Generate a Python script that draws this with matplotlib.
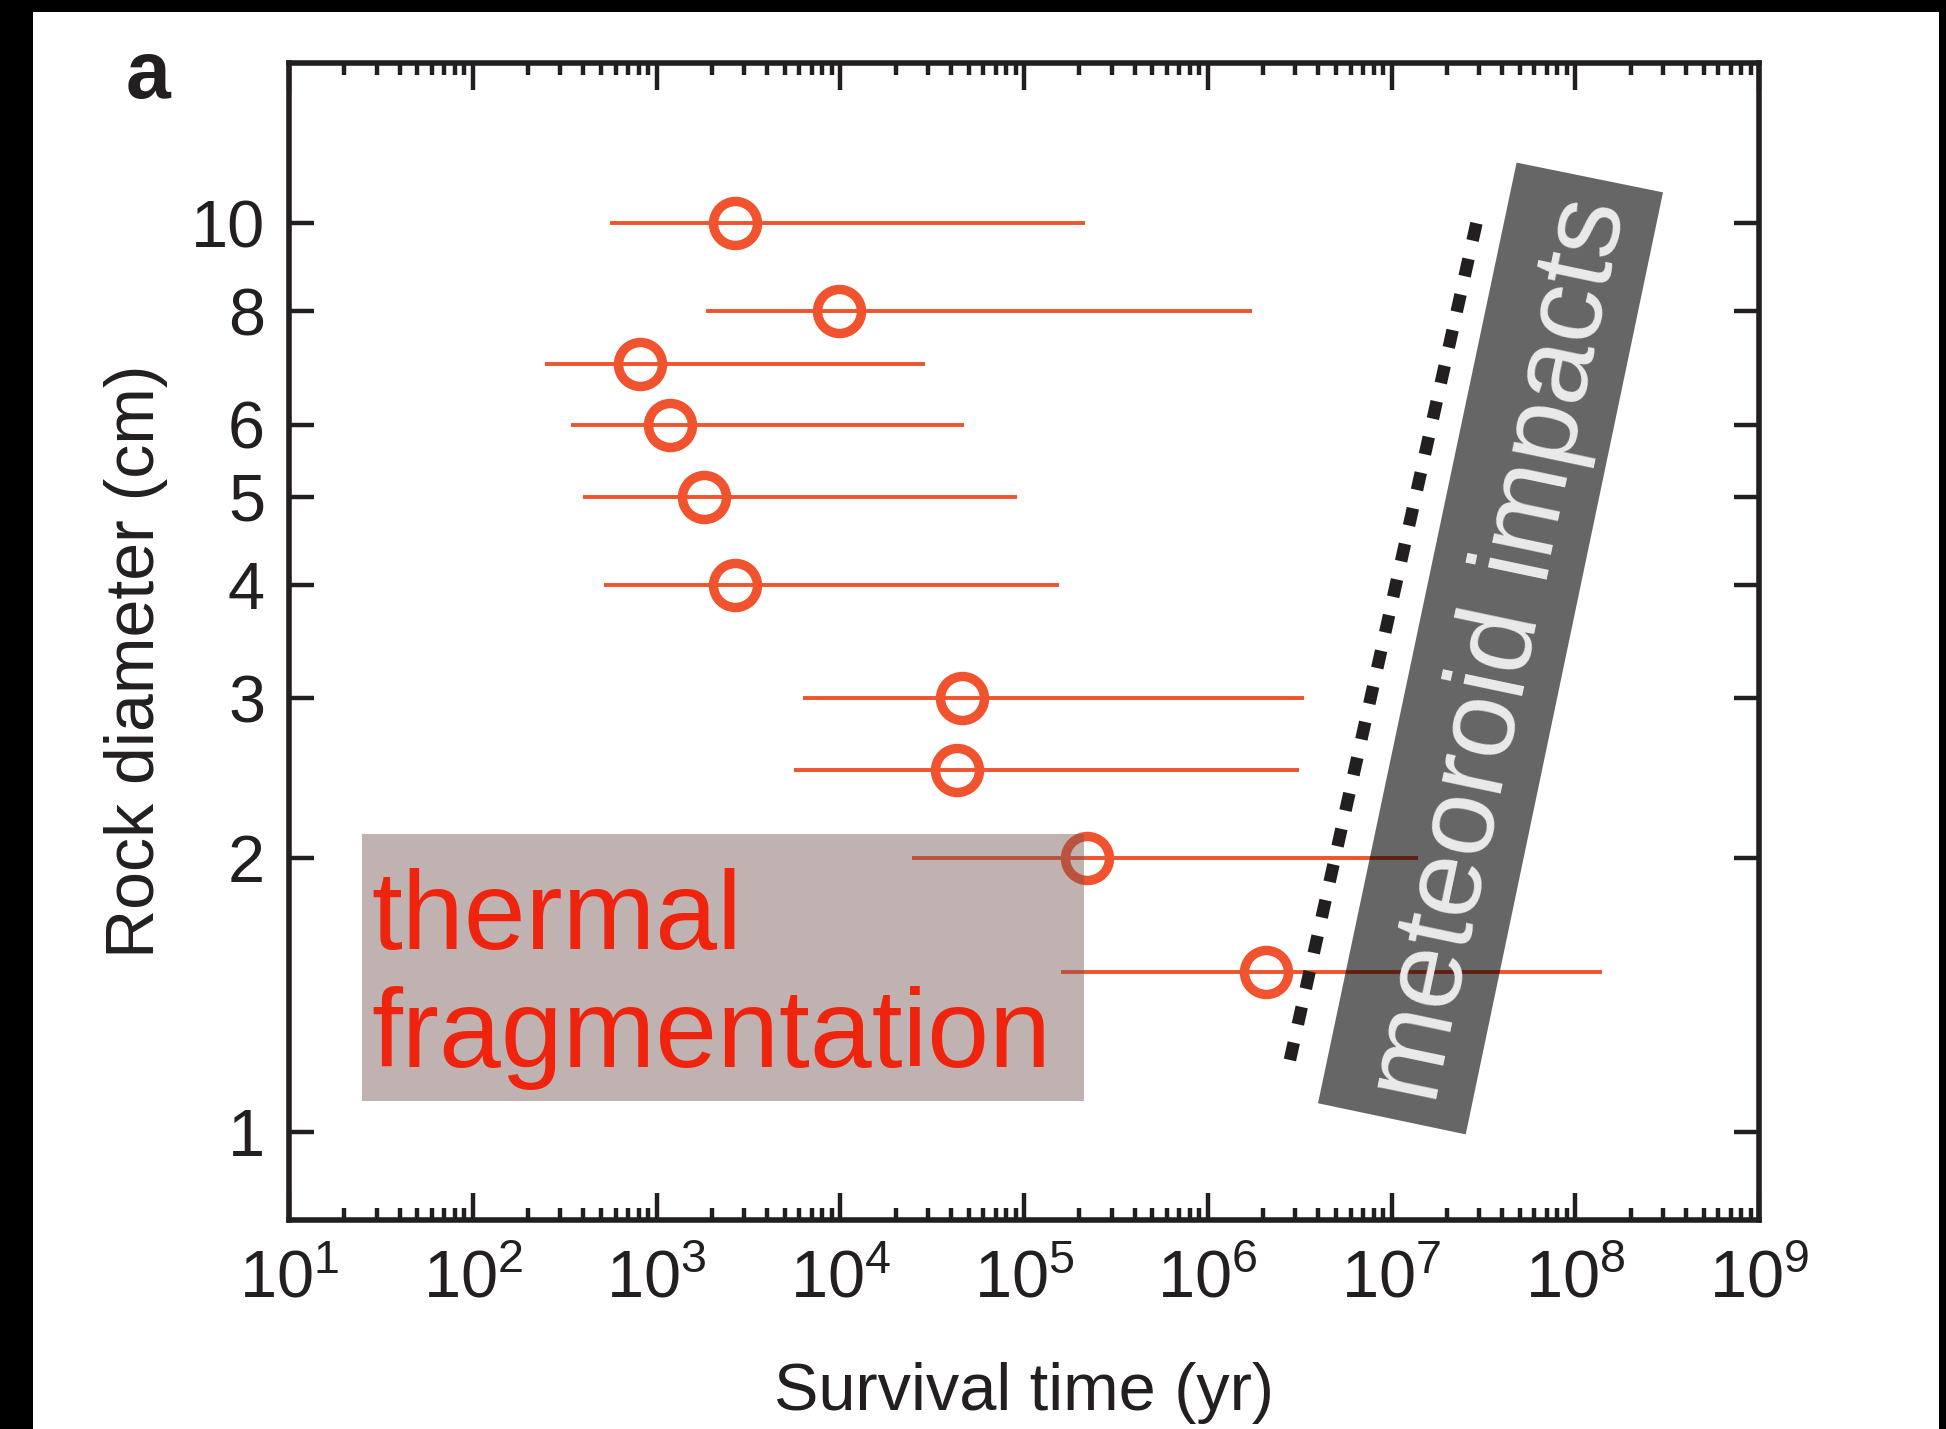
import matplotlib
matplotlib.use('Agg')
import matplotlib.pyplot as plt
from matplotlib.patches import Rectangle, Polygon
from matplotlib.ticker import LogLocator, FixedLocator, NullLocator, FuncFormatter, NullFormatter
import numpy as np

# ---------------- data ----------------
rock_diameter_cm = [10, 8, 7, 6, 5, 4, 3, 2.5, 2, 1.5]
survival_median_yr = [2.67e3, 9.9e3, 8.1e2, 1.19e3, 1.81e3, 2.66e3, 4.6e4, 4.3e4, 2.2e5, 2.08e6]
survival_low_yr = [5.6e2, 1.85e3, 2.47e2, 3.43e2, 4.0e2, 5.2e2, 6.3e3, 5.6e3, 2.45e4, 1.59e5]
survival_high_yr = [2.14e5, 1.75e6, 2.89e4, 4.7e4, 9.2e4, 1.56e5, 3.36e6, 3.15e6, 1.40e7, 1.40e8]
impact_time_yr = [2.8e6, 2.9e7]
impact_diameter_cm = [1.2, 10]
y_ticks = [1, 2, 3, 4, 5, 6, 8, 10]
x_decades = list(range(1, 10))

# ---------------- style ----------------
plt.rcParams['font.family'] = ['Liberation Sans', 'DejaVu Sans']
plt.rcParams['mathtext.fontset'] = 'custom'
plt.rcParams['mathtext.rm'] = 'Liberation Sans'
plt.rcParams['mathtext.default'] = 'regular'

INK = '#231F20'
ORANGE = '#F0532D'
RED_TEXT = '#EE240E'
FS = 48

W, H = 1946, 1429
fig = plt.figure(figsize=(W / 100, H / 100), dpi=100)
fig.patch.set_facecolor('white')

# black scan borders
for (x0, y0, w, h) in [(0, 1 - 12 / H, 1, 12 / H), (0, 0, 33 / W, 1), (1939 / W, 0, 7 / W, 1)]:
    fig.add_artist(Rectangle((x0, y0), w, h, transform=fig.transFigure,
                             facecolor='black', edgecolor='none', zorder=10))

ax = fig.add_axes([289 / W, 1 - 1220 / H, 1470 / W, 1157 / H])
ax.set_xscale('log')
ax.set_yscale('log')
ax.set_xlim(10, 1e9)
ax.set_ylim(0.8, 15)

med = np.array(survival_median_yr)
lo = np.array(survival_low_yr)
hi = np.array(survival_high_yr)
ax.errorbar(med, rock_diameter_cm, xerr=[med - lo, hi - med], fmt='o',
            color=ORANGE, ecolor=ORANGE, elinewidth=2.8, capsize=0,
            mfc='none', mec=ORANGE, ms=31.7, mew=6.8, zorder=2)

# dashed meteoroid impact line
ax.plot(impact_time_yr, impact_diameter_cm, color=INK, lw=9,
        dashes=(1.42, 1.5), dash_capstyle='butt', zorder=4)

# thermal fragmentation box
ax.add_patch(Rectangle((0.0494, 0.1031), 0.4914, 0.2305, transform=ax.transAxes,
                       facecolor='#775454', alpha=0.45, lw=0, zorder=3))
ax.text(0.0558, 0.2342, 'thermal', transform=ax.transAxes, fontsize=80,
        color=RED_TEXT, ha='left', va='baseline', zorder=5)
ax.text(0.0558, 0.1322, 'fragmentation', transform=ax.transAxes, fontsize=80,
        color=RED_TEXT, ha='left', va='baseline', zorder=5)

# meteoroid impacts box (rotated)
ax.add_patch(Polygon([(0.8351, 0.9139), (0.9347, 0.8882), (0.8005, 0.0740), (0.7000, 0.1009)],
                     closed=True, transform=ax.transAxes, facecolor='black',
                     alpha=0.6, lw=0, zorder=3))
ax.text(0.8252, 0.4927, 'meteoroid impacts', transform=ax.transAxes, rotation=78.1,
        rotation_mode='anchor', ha='center', va='center', fontsize=81,
        color='#EBEBEB', zorder=5)

# ticks
ax.xaxis.set_major_locator(FixedLocator([10.0 ** d for d in x_decades]))
ax.xaxis.set_minor_locator(LogLocator(base=10, subs=range(2, 10), numticks=100))
ax.xaxis.set_major_formatter(FuncFormatter(lambda v, p: r'$\mathregular{10^{%d}}$' % round(np.log10(v))))
ax.xaxis.set_minor_formatter(NullFormatter())
ax.yaxis.set_major_locator(FixedLocator(y_ticks))
ax.yaxis.set_minor_locator(NullLocator())
ax.yaxis.set_major_formatter(FuncFormatter(lambda v, p: '%g' % v))
ax.yaxis.set_minor_formatter(NullFormatter())

ax.tick_params(axis='both', which='both', direction='in', top=True, right=True,
               colors=INK, width=3.2)
ax.tick_params(axis='x', which='major', length=19.4, pad=21, labelsize=FS)
ax.tick_params(axis='x', which='minor', length=8.6)
ax.tick_params(axis='y', which='major', length=18, pad=17.3, labelsize=FS)

for s in ax.spines.values():
    s.set_linewidth(4)
    s.set_color(INK)

ax.set_xlabel('Survival time (yr)', fontsize=FS, color=INK, va='baseline')
ax.xaxis.set_label_coords(0.5, -0.1642)
ax.set_ylabel('Rock diameter (cm)', fontsize=FS + 1, color=INK, va='center')
ax.yaxis.set_label_coords(-0.104, 0.483)

fig.text(126 / W, 1 - 98 / H, 'a', fontsize=58, fontweight='bold', color=INK,
         ha='left', va='baseline')

fig.savefig('out.png', dpi=100)
